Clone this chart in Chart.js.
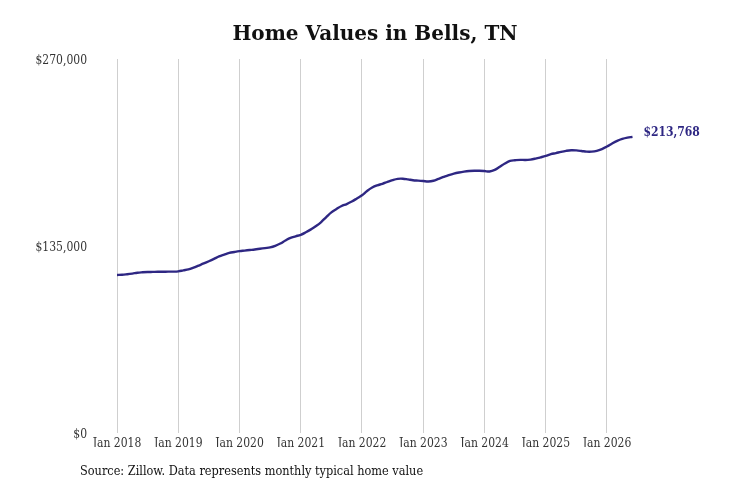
<!DOCTYPE html>
<html>
<head>
<meta charset="utf-8">
<script src="https://cdn.jsdelivr.net/npm/chart.js@4"></script>
<style>
  html, body { margin: 0; padding: 0; background: #fff; }
  #wrap { width: 731px; height: 487px; }
</style>
</head>
<body>
<div id="wrap"><canvas id="home-chart"></canvas></div>
<script>
// Bells, TN typical home value, monthly Jan 2018 - Jun 2026
const monthNames = ["Jan", "Feb", "Mar", "Apr", "May", "Jun", "Jul", "Aug", "Sep", "Oct", "Nov", "Dec"];
const years = [2018, 2019, 2020, 2021, 2022, 2023, 2024, 2025, 2026];

const homeValues = [
  114100, 114200, 114600, 115100, 115700, 116000, 116200, 116300, 116400, 116400, 116500, 116500,
  116700, 117400, 118100, 119400, 120900, 122400, 124000, 125700, 127500, 128800, 130000, 130700,
  131300, 131700, 132100, 132500, 133000, 133500, 134000, 135100, 136800, 139000, 140900, 142000,
  143100, 144900, 147000, 149400, 152300, 155900, 159300, 161700, 163900, 165300, 167100, 169300,
  171600, 174700, 177200, 178800, 179900, 181300, 182600, 183500, 183600, 183100, 182500, 182200,
  181900, 181600, 182100, 183500, 184900, 186200, 187300, 188100, 188700, 189100, 189300, 189300,
  189100, 188800, 189900, 192200, 194500, 196400, 196900, 197200, 197100, 197400, 198100, 199000,
  200000, 201300, 202100, 203000, 203700, 204100, 204000, 203600, 203100, 203100, 203700, 205000,
  206800, 209000, 210900, 212300, 213200, 213768
];

const yTicks = [0, 135000, 270000];

const titleText = "Home Values in Bells, TN";
const sourceText = "Source: Zillow. Data represents monthly typical home value";
const lineColor = "#2e2783";

// month labels to match the values
const labels = homeValues.map((v, i) => monthNames[i % 12] + " " + years[Math.floor(i / 12)]);

const fmt = (v) => "$" + Math.round(v).toLocaleString("en-US");

// title, source line and end label
const extras = {
  id: "extras",
  afterDraw(chart) {
    const ctx = chart.ctx;
    ctx.save();
    ctx.fillStyle = "#111";
    ctx.font = "bold 20px 'DejaVu Serif'";
    ctx.textAlign = "center";
    ctx.textBaseline = "middle";
    ctx.fillText(titleText, 375, 35);

    ctx.font = "12.6px 'DejaVu Serif Condensed', 'DejaVu Serif'";
    ctx.textAlign = "left";
    ctx.fillText(sourceText, 80, 472);

    const meta = chart.getDatasetMeta(0);
    const last = meta.data[meta.data.length - 1];
    ctx.fillStyle = lineColor;
    ctx.font = "bold 12px 'DejaVu Serif Condensed', 'DejaVu Serif'";
    ctx.fillText(fmt(homeValues[homeValues.length - 1]), last.x + 11, last.y - 4);
    ctx.restore();
  }
};

const tickFont = { family: "'DejaVu Serif Condensed', 'DejaVu Serif'", size: 12 };

new Chart(document.getElementById("home-chart"), {
  type: "line",
  data: {
    labels: labels,
    datasets: [{
      data: homeValues,
      borderColor: lineColor,
      borderWidth: 2.4,
      pointRadius: 0,
      tension: 0.4,
      fill: false
    }]
  },
  options: {
    responsive: true,
    maintainAspectRatio: false,
    animation: false,
    layout: { padding: { top: 59, right: 98.5, bottom: 40, left: 0 } },
    plugins: {
      legend: { display: false },
      tooltip: { enabled: false }
    },
    scales: {
      x: {
        type: "category",
        offset: false,
        border: { display: false },
        grid: {
          drawTicks: false,
          color: (c) => (c.index % 12 === 0 ? "#cfcfcf" : "rgba(0,0,0,0)"),
          lineWidth: 1
        },
        ticks: {
          autoSkip: false,
          maxRotation: 0,
          padding: 4,
          color: "#333",
          font: tickFont,
          callback: (v, i) => (i % 12 === 0 ? labels[i] : "")
        },
        afterFit: (scale) => { scale.height = 14; }
      },
      y: {
        min: 0,
        max: 270000,
        border: { display: false },
        grid: { display: false, drawTicks: false },
        afterBuildTicks: (scale) => { scale.ticks = yTicks.map((v) => ({ value: v })); },
        ticks: {
          padding: 30,
          labelOffset: 2,
          color: "#333",
          font: tickFont,
          callback: (v) => fmt(v)
        },
        afterFit: (scale) => { scale.width = 117; }
      }
    }
  },
  plugins: [extras]
});
</script>
</body>
</html>
